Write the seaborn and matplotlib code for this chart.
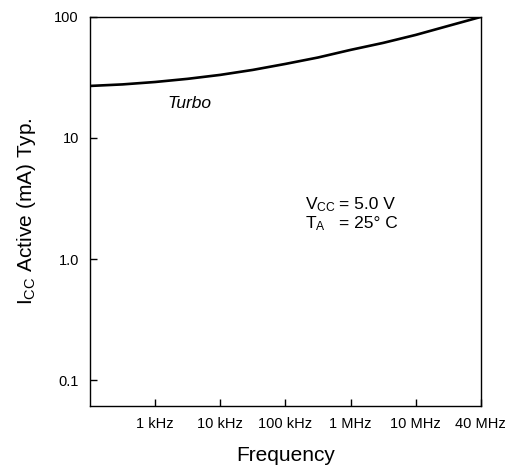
import numpy as np
import pandas as pd
import seaborn as sns
import matplotlib
matplotlib.use("Agg")
import matplotlib.pyplot as plt
from matplotlib.ticker import FixedLocator, FixedFormatter, NullLocator

# data (x = position on the frequency scale)
freq_pos = [0, 0.5, 1, 1.5, 2, 2.5, 3, 3.5, 4, 4.5, 5, 5.5, 6]
icc_ma = [26.9, 27.7, 29.0, 30.8, 33.2, 36.5, 40.9, 46.2, 53.4, 61.0, 71.0, 84.3, 100.0]

freq_ticks = [1, 2, 3, 4, 5, 6]
freq_labels = ["1 kHz", "10 kHz", "100 kHz", "1 MHz", "10 MHz", "40 MHz"]
y_ticks = [0.1, 1.0, 10, 100]
y_labels = ["0.1", "1.0", "10", "100"]

sns.set_theme(style="ticks")
plt.rcParams["font.family"] = ["Liberation Sans", "DejaVu Sans"]
plt.rcParams["mathtext.fontset"] = "custom"
plt.rcParams["mathtext.rm"] = "Liberation Sans"
plt.rcParams["text.color"] = "black"
plt.rcParams["axes.labelcolor"] = "black"

df = pd.DataFrame({"pos": freq_pos, "icc": icc_ma})

fig = plt.figure(figsize=(5.11, 4.70), dpi=100)
ax = fig.add_axes([0.176, 0.136, 0.765, 0.828])

sns.lineplot(data=df, x="pos", y="icc", color="black", linewidth=1.9, ax=ax)

ax.set_yscale("log")
ax.set_xlim(0, 6)
ax.set_ylim(10 ** -1.215, 100)

ax.xaxis.set_major_locator(FixedLocator(freq_ticks))
ax.xaxis.set_major_formatter(FixedFormatter(freq_labels))
ax.yaxis.set_major_locator(FixedLocator(y_ticks))
ax.yaxis.set_major_formatter(FixedFormatter(y_labels))
ax.yaxis.set_minor_locator(NullLocator())
ax.xaxis.set_minor_locator(NullLocator())

ax.tick_params(axis="both", direction="in", length=5, width=1, color="black",
               labelsize=10.5, labelcolor="black", pad=8)

for s in ax.spines.values():
    s.set_visible(True)
    s.set_color("black")
    s.set_linewidth(1.0)

ax.set_xlabel("Frequency", fontsize=15, labelpad=11)
ax.set_ylabel(r"$\mathregular{I_{CC}}$ Active (mA) Typ.", fontsize=15, labelpad=12)

ax.text(1.53, 19.1, "Turbo", fontsize=12.5, style="italic", ha="center", va="center")

ax.text(0.55, 0.517, r"$\mathregular{V_{CC}}$", transform=ax.transAxes,
        fontsize=12.5, ha="left", va="center")
ax.text(0.637, 0.517, "= 5.0 V", transform=ax.transAxes,
        fontsize=12.5, ha="left", va="center")
ax.text(0.55, 0.468, r"$\mathregular{T_{A}}$", transform=ax.transAxes,
        fontsize=12.5, ha="left", va="center")
ax.text(0.637, 0.468, "= 25° C", transform=ax.transAxes,
        fontsize=12.5, ha="left", va="center")

fig.savefig("out.png", dpi=100)
